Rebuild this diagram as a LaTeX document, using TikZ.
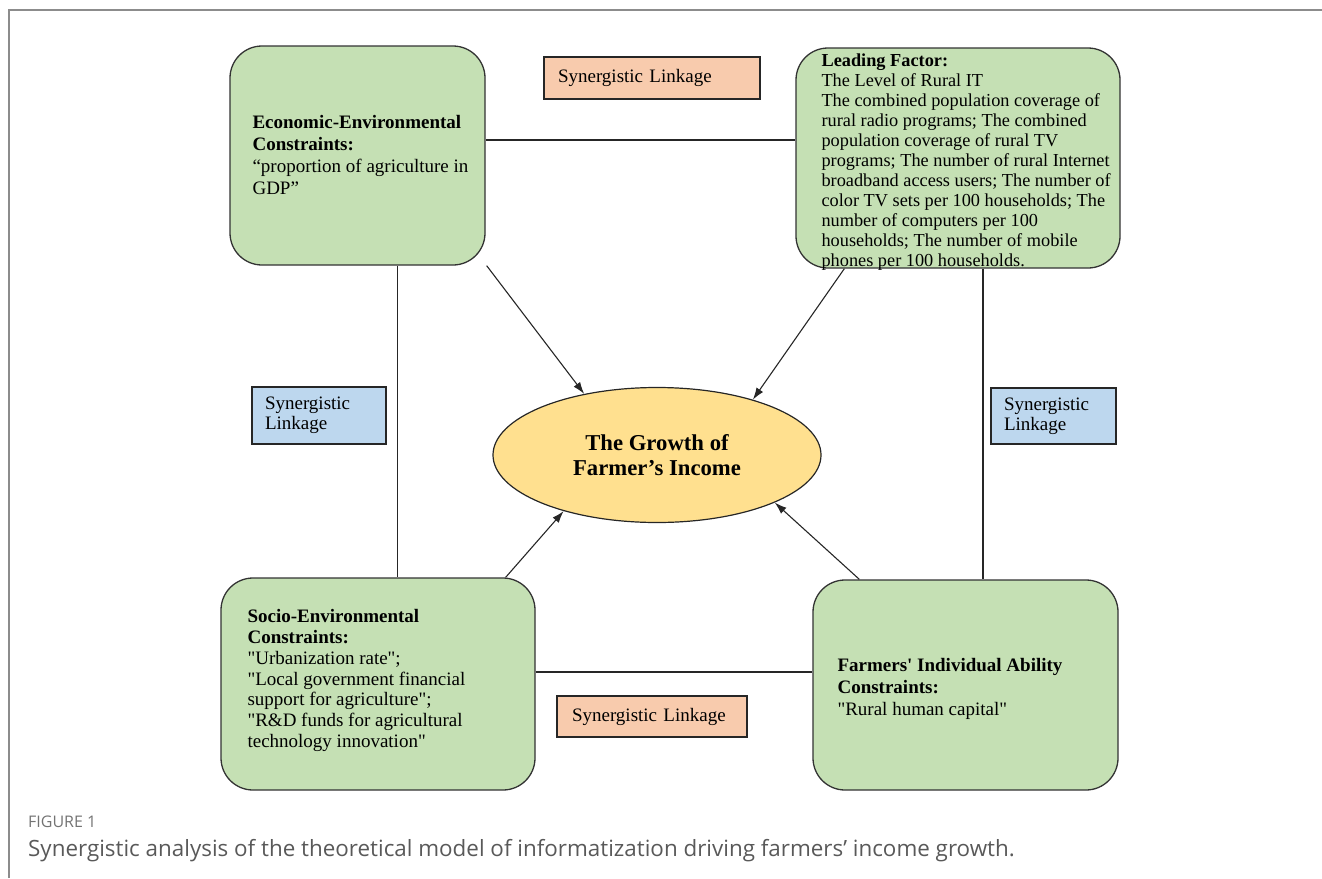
\documentclass[tikz,border=0pt]{standalone}
\usepackage{fontspec}
\setmainfont{Liberation Serif}[Ligatures=TeXOff]
\newfontfamily\capfont{Open Sans}
\usetikzlibrary{arrows.meta,shapes.geometric,calc}
\definecolor{boxgreen}{HTML}{C5E0B4}
\definecolor{linkorange}{HTML}{F8CBAD}
\definecolor{linkblue}{HTML}{BDD7EE}
\definecolor{ellyellow}{HTML}{FFE08F}
\definecolor{framegray}{HTML}{8C8C8C}
\begin{document}
\begin{tikzpicture}[x=1pt,y=-1pt,
  factor/.style={draw=black!80, line width=1.3pt, fill=boxgreen, rounded corners=32pt, inner sep=0pt},
  ftext/.style={anchor=west, align=left, inner sep=0pt},
  link/.style={draw=black!85, line width=1.2pt, align=left, inner ysep=0pt, font=\fontsize{19}{20}\selectfont},
  conn/.style={line width=1.1pt, draw=black!85},
  arr/.style={conn, -{Latex[length=12pt,width=8pt]}}]
\useasboundingbox (0,0) rectangle (1322,878);
% frame
\draw[framegray, line width=2pt] (9,878) -- (9,9.5) -- (1322,9.5);

% factor boxes
\node[factor, minimum width=255pt, minimum height=219pt] (ee) at (357.5,155.5) {};
\node[factor, minimum width=324pt, minimum height=220pt] (lf) at (958,158) {};
\node[factor, minimum width=314pt, minimum height=212pt] (se) at (378,684) {};
\node[factor, minimum width=305pt, minimum height=210pt] (fi) at (965.5,685) {};

\node[ftext, font=\fontsize{19}{21.7}\selectfont] (eet) at ([xshift=23pt,yshift=0.5pt]ee.west)
  {\textbf{Economic-Environmental}\\\textbf{Constraints:}\\“proportion of agriculture in\\GDP”};
\node[ftext, font=\fontsize{18.3}{20}\selectfont] (lft) at ([xshift=26pt,yshift=-4.5pt]lf.west)
  {\textbf{Leading Factor:}\\The Level of Rural IT\\The combined population coverage of\\rural radio programs; The combined\\population coverage of rural TV\\programs; The number of rural Internet\\broadband access users; The number of\\color TV sets per 100 households; The\\number of computers per 100\\households; The number of mobile\\phones per 100 households.};
\node[ftext, font=\fontsize{19}{20.8}\selectfont] (set) at ([xshift=27pt,yshift=3.5pt]se.west)
  {\textbf{Socio-Environmental}\\\textbf{Constraints:}\\"Urbanization rate";\\"Local government financial\\support for agriculture";\\"R\&D funds for agricultural\\technology innovation"};
\node[ftext, font=\fontsize{19}{21.7}\selectfont] (fit) at ([xshift=25pt,yshift=-4pt]fi.west)
  {\textbf{Farmers' Individual Ability}\\\textbf{Constraints:}\\"Rural human capital"};

% central ellipse
\node[ellipse, draw=black!85, line width=1.2pt, fill=ellyellow, minimum width=328pt, minimum height=135pt, inner sep=0pt,
  align=center, font=\bfseries\fontsize{22.7}{25}\selectfont] (inc) at (657,455) {The Growth of\\Farmer’s Income};

% synergistic linkage labels
\node[link, fill=linkorange, minimum width=216pt, minimum height=42pt, text width=188pt, inner xsep=14pt] (lk1) at (652,78) {Synergistic Linkage};
\node[link, fill=linkorange, minimum width=190pt, minimum height=41pt, text width=160pt, inner xsep=15pt] (lk2) at (652,716.5) {Synergistic Linkage};
\node[link, fill=linkblue, minimum width=134pt, minimum height=57pt, text width=108pt, inner xsep=13pt] (lk3) at (319,415.5) {Synergistic\\Linkage};
\node[link, fill=linkblue, minimum width=125pt, minimum height=56pt, text width=99pt, inner xsep=13pt] (lk4) at (1053.5,416) {Synergistic\\Linkage};

% connecting lines
\coordinate (tl) at ([yshift=15.5pt]ee.east);
\coordinate (bl) at ([yshift=12pt]se.east);
\coordinate (lv) at ([xshift=40pt]ee.south);
\coordinate (rv) at ([xshift=25pt]lf.south);
\draw[conn] (tl) -- (tl -| lf.west);
\draw[conn] (bl) -- (bl -| fi.west);
\draw[conn] (lv) -- (lv |- se.north);
\draw[conn] (rv) -- (rv |- fi.north);

% arrows
\draw[arr] ([xshift=1pt]ee.south east) -- (inc.140);
\draw[arr] ([xshift=49pt]lf.south west) -- (inc.30);
\draw[arr] ([xshift=-30pt]se.north east) -- (inc.211);
\draw[arr] ([xshift=47pt]fi.north west) -- (inc.338);

% caption
\node[anchor=west, inner sep=0pt, text=black!55, font=\capfont\fontsize{16}{18}\selectfont] (capa) at (28,822) {FIGURE 1};
\node[anchor=west, inner sep=0pt, text=black!65, font=\capfont\fontsize{22.4}{24}\selectfont] (capb) at (28,851)
  {Synergistic analysis of the theoretical model of informatization driving farmers’ income growth.};
\end{tikzpicture}
\end{document}
